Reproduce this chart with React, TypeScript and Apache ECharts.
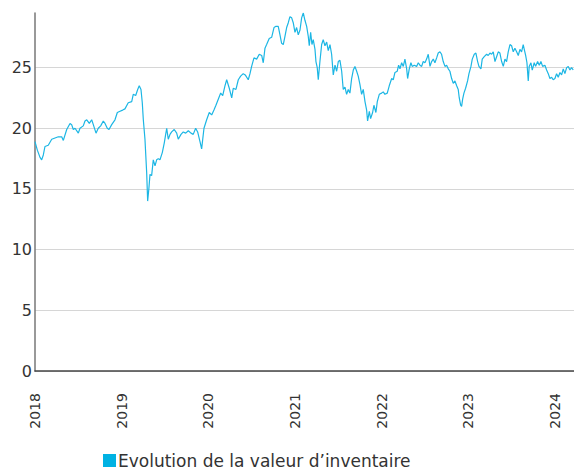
import React, { useEffect, useRef } from "react";
import * as echarts from "echarts";

// Dates as decimal years, values = net asset value
const years: number[] = [
  2018.0, 2018.027, 2018.058, 2018.077, 2018.096, 2018.115, 2018.153, 2018.193, 2018.231, 2018.269,
  2018.308, 2018.327, 2018.366, 2018.404, 2018.423, 2018.442, 2018.462, 2018.5, 2018.519, 2018.557,
  2018.577, 2018.597, 2018.627, 2018.654, 2018.673, 2018.704, 2018.73, 2018.758, 2018.788, 2018.808,
  2018.834, 2018.854, 2018.885, 2018.923, 2018.95, 2018.981, 2019.012, 2019.038, 2019.076,
  2019.116, 2019.134, 2019.162, 2019.185, 2019.203, 2019.223, 2019.238, 2019.25, 2019.269, 2019.289,
  2019.3, 2019.315, 2019.327, 2019.346, 2019.365, 2019.385, 2019.404, 2019.423, 2019.442, 2019.469,
  2019.492, 2019.508, 2019.52, 2019.538, 2019.558, 2019.577, 2019.607, 2019.635, 2019.653, 2019.685,
  2019.711, 2019.739, 2019.769, 2019.8, 2019.826, 2019.854, 2019.877, 2019.904, 2019.923,
  2019.95, 2019.981, 2020.011, 2020.039, 2020.065, 2020.088, 2020.115, 2020.143, 2020.166, 2020.192,
  2020.212, 2020.242, 2020.27, 2020.288, 2020.319, 2020.346, 2020.373, 2020.403, 2020.426, 2020.461,
  2020.481, 2020.5, 2020.527, 2020.558, 2020.588, 2020.616, 2020.634, 2020.654, 2020.673, 2020.703,
  2020.731, 2020.758, 2020.781, 2020.807, 2020.827, 2020.846, 2020.865, 2020.885, 2020.904, 2020.923,
  2020.942, 2020.962, 2020.98, 2021.0, 2021.019, 2021.038, 2021.058,
  2021.077, 2021.096, 2021.115, 2021.135, 2021.153, 2021.165, 2021.181, 2021.196, 2021.211, 2021.231,
  2021.242, 2021.257, 2021.269, 2021.288, 2021.308, 2021.326, 2021.346, 2021.366, 2021.384, 2021.404,
  2021.423, 2021.442, 2021.462, 2021.481, 2021.5, 2021.519, 2021.539, 2021.557, 2021.577, 2021.596,
  2021.615, 2021.634, 2021.654, 2021.673, 2021.692, 2021.712, 2021.73, 2021.75, 2021.769, 2021.788,
  2021.808, 2021.827, 2021.838, 2021.858, 2021.873, 2021.896, 2021.911, 2021.934, 2021.95, 2021.973,
  2022.0, 2022.019, 2022.038, 2022.065, 2022.088, 2022.116, 2022.134, 2022.154, 2022.18, 2022.196,
  2022.212, 2022.231, 2022.25, 2022.269, 2022.289, 2022.3, 2022.319, 2022.338, 2022.353, 2022.376,
  2022.404, 2022.423, 2022.442, 2022.462, 2022.48, 2022.5, 2022.519, 2022.538, 2022.558, 2022.577,
  2022.596, 2022.615, 2022.635, 2022.653, 2022.673, 2022.692, 2022.711, 2022.731, 2022.75, 2022.769,
  2022.788, 2022.808, 2022.827, 2022.846, 2022.866, 2022.884, 2022.896, 2022.912, 2022.923, 2022.935,
  2022.95, 2022.969, 2022.992, 2023.008, 2023.031, 2023.046, 2023.069, 2023.088, 2023.108, 2023.123,
  2023.146, 2023.161, 2023.184,
  2023.212, 2023.23, 2023.25, 2023.269, 2023.288, 2023.308, 2023.327, 2023.346, 2023.365, 2023.385,
  2023.404, 2023.423, 2023.442, 2023.461, 2023.481, 2023.5, 2023.519, 2023.538, 2023.558, 2023.577,
  2023.596, 2023.615, 2023.634, 2023.646, 2023.662, 2023.677, 2023.692, 2023.703, 2023.723, 2023.738,
  2023.761, 2023.777, 2023.8, 2023.819, 2023.838, 2023.858, 2023.884, 2023.904, 2023.923, 2023.942,
  2023.962, 2023.98, 2024.0, 2024.019, 2024.038, 2024.058, 2024.077, 2024.096, 2024.115, 2024.135,
  2024.154, 2024.173, 2024.192, 2024.211,
];

const navValues: number[] = [
  18.9, 18.2, 17.6, 17.4, 17.8, 18.5, 18.6, 19.1, 19.2, 19.3,
  19.3, 19.0, 19.9, 20.4, 20.3, 19.9, 20.0, 19.6, 20.0, 20.2,
  20.6, 20.7, 20.4, 20.7, 20.3, 19.6, 20.0, 20.2, 20.6, 20.4,
  20.0, 19.9, 20.3, 20.7, 21.3, 21.4, 21.5, 21.6, 22.1,
  22.2, 22.8, 22.7, 23.2, 23.5, 23.2, 22.1, 20.7, 19.1, 16.3,
  14.0, 15.1, 16.2, 16.1, 17.4, 16.9, 17.4, 17.5, 17.4, 18.0,
  18.8, 19.5, 20.0, 19.1, 19.5, 19.7, 19.9, 19.6, 19.1, 19.5,
  19.7, 19.6, 19.8, 19.6, 19.5, 20.0, 19.7, 18.9, 18.3,
  20.0, 20.7, 21.3, 21.1, 21.5, 21.9, 22.4, 22.9, 22.7, 23.5,
  24.0, 23.3, 22.5, 23.3, 23.2, 24.0, 24.3, 24.5, 24.4, 24.0,
  24.5, 25.1, 25.8, 25.7, 26.1, 26.0, 25.4, 26.6, 26.9, 27.4,
  27.5, 28.3, 28.4, 28.4, 27.7, 27.0, 26.9, 27.6, 28.3, 28.7,
  29.2, 29.1, 28.7, 27.9, 28.3, 27.7, 28.1,
  29.1, 29.5, 28.9, 28.4, 27.6, 26.8, 27.9, 26.9, 27.3, 26.5,
  25.5, 25.0, 24.0, 25.5, 26.9, 27.3, 26.8, 27.1, 26.4, 26.9,
  26.1, 24.4, 25.2, 24.7, 25.5, 25.6, 24.7, 23.2, 23.4, 22.8,
  23.2, 22.9, 24.1, 24.8, 25.1, 24.7, 24.3, 23.6, 22.8, 23.2,
  22.2, 21.5, 20.6, 21.4, 20.8, 21.3, 21.9, 21.3, 22.2, 22.8,
  22.9, 23.0, 22.8, 22.9, 23.5, 24.1, 24.0, 24.6, 24.7, 25.2,
  24.9, 25.4, 25.1, 25.7, 24.9, 24.1, 24.9, 25.4, 25.1, 25.2,
  25.1, 25.4, 25.2, 25.1, 25.5, 25.4, 25.7, 26.1, 25.1, 25.5,
  25.7, 25.4, 25.8, 26.2, 26.3, 26.1, 25.5, 25.1, 25.2, 24.9,
  24.7, 24.1, 23.7, 23.9, 23.5, 23.2, 22.5, 21.9, 21.8, 22.4,
  22.9, 23.3, 23.9, 24.5, 25.1, 25.7, 26.1, 26.2, 25.5, 25.1,
  24.9, 25.7, 25.9,
  26.1, 26.0, 26.2, 26.1, 26.3, 25.5, 25.9, 26.3, 26.2, 25.5,
  25.1, 25.7, 25.5, 26.3, 26.9, 26.8, 26.3, 26.6, 26.3, 26.0,
  26.5, 26.3, 26.9, 26.5, 26.0, 25.4, 23.9, 25.1, 25.4, 24.8,
  25.4, 25.1, 25.5, 25.2, 25.5, 25.1, 25.2, 24.8, 24.5, 24.1,
  24.2, 24.0, 24.1, 24.5, 24.2, 24.6, 24.4, 24.9, 24.5, 25.0,
  25.1, 24.8, 25.0, 24.8,
];

const yTicks: number[] = [0, 5, 10, 15, 20, 25];
const seriesName = "Evolution de la valeur d\u2019inventaire";
const xMin = 2018;
const xMax = 2024.22;
const yMax = 29.5;

const FONT = "DejaVu Sans";

export default function App() {
  const ref = useRef<HTMLDivElement>(null);
  useEffect(() => {
    if (!ref.current) return;
    const chart = echarts.init(ref.current, undefined, { renderer: "svg" });
    const data = years.map((y, i) => [y, navValues[i]]);
    const gridColors = yTicks.map(() => "#d6d6d6").concat(["rgba(0,0,0,0)"]);
    chart.setOption({
      animation: false,
      textStyle: { fontFamily: FONT },
      grid: { left: 35, right: 0, top: 13, bottom: 101, containLabel: false },
      legend: {
        data: [seriesName],
        left: 103,
        top: 452,
        padding: 0,
        icon: "rect",
        itemWidth: 13,
        itemHeight: 13,
        textStyle: { fontSize: 17, color: "#333", fontFamily: FONT, padding: [0, 0, 0, -3] },
      },
      xAxis: {
        type: "value",
        min: xMin,
        max: xMax,
        interval: 1,
        axisLine: { show: true, lineStyle: { color: "#444", width: 1.5 } },
        axisTick: { show: false },
        splitLine: { show: false },
        axisLabel: {
          rotate: 90,
          margin: 22,
          fontSize: 14,
          color: "#333",
          fontFamily: FONT,
          formatter: (v: number) => (Number.isInteger(v) ? String(v) : ""),
        },
      },
      yAxis: {
        type: "value",
        min: 0,
        max: yMax,
        interval: 5,
        axisLine: { show: true, lineStyle: { color: "#777", width: 1.5 } },
        axisTick: { show: false },
        splitLine: { show: true, lineStyle: { color: gridColors, width: 1 } },
        axisLabel: {
          fontSize: 16,
          color: "#333",
          margin: 3,
          fontFamily: FONT,
          showMaxLabel: false,
          formatter: (v: number) => (yTicks.includes(v) ? String(v) : ""),
        },
      },
      series: [
        {
          name: seriesName,
          type: "line",
          data,
          showSymbol: false,
          symbol: "none",
          itemStyle: { color: "#00b2e3" },
          lineStyle: { color: "#1cb6e4", width: 1.2 },
        },
      ],
    });
    return () => chart.dispose();
  }, []);
  return (
    <div
      ref={ref}
      style={{ position: "absolute", left: 0, top: 0, width: 574, height: 472 }}
    />
  );
}
